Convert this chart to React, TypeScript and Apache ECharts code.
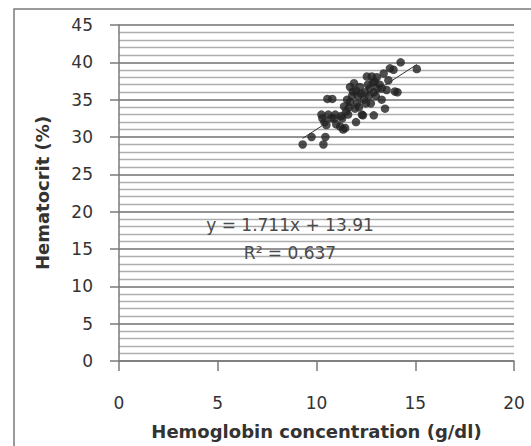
import React, { useEffect, useRef } from "react";
import * as echarts from "echarts";

const hemoglobin: number[] = [
  9.3, 9.75, 10.35, 10.45, 10.55, 10.8, 10.25, 10.3, 10.4, 10.5, 10.6, 10.75, 10.9, 10.95, 11.0, 11.2,
  11.3, 11.35, 11.45, 11.5, 11.6, 11.7, 11.55, 11.4, 11.8, 11.85, 11.9, 11.7, 11.95, 12.0, 12.05, 12.1,
  12.2, 12.15, 12.3, 12.35, 12.4, 12.45, 12.5, 12.55, 12.6, 12.65, 12.7, 12.8, 12.85, 12.9, 12.95, 12.9,
  13.0, 13.1, 13.2, 13.3, 13.4, 13.47, 13.55, 13.64, 13.72, 13.9, 13.97, 14.1, 14.26, 15.08, 12.25, 11.65,
  12.75, 13.05, 12.0, 11.25, 13.3,
];
const hematocrit: number[] = [
  29, 30, 29, 30, 35.1, 35.1, 33, 32.5, 32, 31.6, 33, 32.5, 32.5, 33, 31.7, 31.4,
  32.5, 31, 31.2, 33.4, 33, 34.7, 35, 34.1, 35.5, 36.1, 37.2, 36.7, 33.8, 32, 34.5, 35.5,
  36.7, 34, 33, 32.9, 35, 36, 34.5, 38.1, 37, 35.5, 36.5, 38.1, 37.3, 36, 37.4, 32.9,
  35.5, 36.5, 37, 36.5, 38.5, 33.8, 36.3, 37.6, 39.2, 39, 36.1, 36, 40, 39.1, 35.8, 34,
  34.5, 38, 36.2, 32.8, 35,
];
const slope = 1.711;
const intercept = 13.91;
const equationText = "y = 1.711x + 13.91";
const r2Text = "R² = 0.637";
const xTitle = "Hemoglobin concentration (g/dl)";
const yTitle = "Hematocrit (%)";

export default function App() {
  const ref = useRef<HTMLDivElement>(null);
  useEffect(() => {
    if (!ref.current) return;
    const chart = echarts.init(ref.current, undefined, { renderer: "svg" });
    const pts = hemoglobin.map((x, i) => [x, hematocrit[i]]);
    const xMin = Math.min(...hemoglobin);
    const xMax = Math.max(...hemoglobin);
    const trend = [
      [xMin, slope * xMin + intercept],
      [xMax, slope * xMax + intercept],
    ];
    const font = "'DejaVu Sans', sans-serif";
    chart.setOption({
      animation: false,
      backgroundColor: "#ffffff",
      grid: { left: 119, top: 25, right: 17, bottom: 85, containLabel: false },
      xAxis: {
        type: "value",
        min: 0,
        max: 20,
        interval: 5,
        axisLine: { show: true, onZero: false, lineStyle: { color: "#7a7a7a", width: 1.5 } },
        axisTick: { show: true, length: 10, lineStyle: { color: "#7a7a7a", width: 1.5 } },
        axisLabel: { color: "#333", fontSize: 17, fontFamily: font, margin: 33 },
        splitLine: { show: false },
        name: xTitle,
        nameLocation: "middle",
        nameGap: 61,
        nameTextStyle: { color: "#333", fontSize: 18, fontWeight: "bold", fontFamily: font },
      },
      yAxis: {
        type: "value",
        min: 0,
        max: 45,
        interval: 5,
        axisLine: { show: true, lineStyle: { color: "#7a7a7a", width: 1.5 } },
        axisTick: { show: true, length: 9, lineStyle: { color: "#7a7a7a", width: 1.5 } },
        axisLabel: { color: "#333", fontSize: 17, fontFamily: font, margin: 26 },
        splitLine: { show: true, lineStyle: { color: "#707070", width: 1.6 } },
        minorTick: { show: false, splitNumber: 5 },
        minorSplitLine: { show: true, lineStyle: { color: "#aeaeae", width: 1.4 } },
        name: yTitle,
        nameLocation: "middle",
        nameGap: 68,
        nameTextStyle: { color: "#333", fontSize: 18, fontWeight: "bold", fontFamily: font },
      },
      series: [
        {
          type: "scatter",
          data: pts,
          symbol: "circle",
          symbolSize: 8.5,
          itemStyle: { color: "#222222" },
          z: 3,
        },
        {
          type: "line",
          data: trend,
          showSymbol: false,
          symbol: "none",
          lineStyle: { color: "#333333", width: 1 },
          z: 4,
        },
      ],
      graphic: [
        {
          type: "rect",
          shape: { x: 14, y: 9, width: 540, height: 460 },
          style: { fill: "none", stroke: "#7a7a7a", lineWidth: 1.5 },
          silent: true,
        },
        {
          type: "text",
          x: 290,
          y: 225,
          style: {
            text: equationText,
            fill: "#4a4a4a",
            fontSize: 17,
            fontFamily: font,
            align: "center",
            verticalAlign: "middle",
          },
          z: 10,
        },
        {
          type: "text",
          x: 290,
          y: 253,
          style: {
            text: r2Text,
            fill: "#4a4a4a",
            fontSize: 17,
            fontFamily: font,
            align: "center",
            verticalAlign: "middle",
          },
          z: 10,
        },
      ],
    });
    return () => chart.dispose();
  }, []);
  return (
    <div
      ref={ref}
      style={{ position: "fixed", left: 0, top: 0, width: 531, height: 446, background: "#fff" }}
    />
  );
}
